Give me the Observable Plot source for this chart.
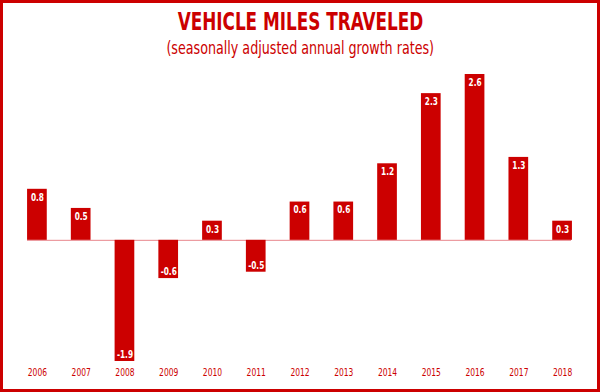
<!DOCTYPE html>
<html>
<head>
<meta charset="utf-8">
<script src="https://cdn.jsdelivr.net/npm/d3@7"></script>
<script src="https://cdn.jsdelivr.net/npm/@observablehq/plot@0.6"></script>
<style>
  html, body { margin: 0; padding: 0; background: #fff; }
  #wrap { position: relative; width: 600px; height: 392px; overflow: hidden; }
  #frame { position: absolute; left: 0; top: 0; width: 600px; height: 392px; box-sizing: border-box; border: 3px solid #cc0000; pointer-events: none; }
  .cond { font-family: "Liberation Sans Narrow", "DejaVu Sans Condensed", "Roboto Condensed", "Arial Narrow", sans-serif; font-stretch: condensed; }
  .line { position: absolute; left: 0; width: 600px; text-align: center; color: #cc0000; }
  .line span { display: inline-block; white-space: nowrap; }
  #title { top: 8px; font-weight: bold; font-size: 24px; line-height: 28px; }
  #title span { transform: scaleX(0.78); }
  #subtitle { top: 37px; font-size: 17px; line-height: 22px; }
  #subtitle span { transform: scaleX(0.83); }
  #chart { position: absolute; left: 0; top: 0; }
</style>
</head>
<body>
<div id="wrap">
  <div id="chart"></div>
  <div id="title" class="line cond"><span>VEHICLE MILES TRAVELED</span></div>
  <div id="subtitle" class="line cond"><span>(seasonally adjusted annual growth rates)</span></div>
  <div id="frame"></div>
</div>
<script>
const years = ["2006","2007","2008","2009","2010","2011","2012","2013","2014","2015","2016","2017","2018"];
const growth = [0.8, 0.5, -1.9, -0.6, 0.3, -0.5, 0.6, 0.6, 1.2, 2.3, 2.6, 1.3, 0.3];

const data = years.map((year, i) => ({year, value: growth[i]}));
const font = '"Liberation Sans Narrow", "DejaVu Sans Condensed", "Roboto Condensed", sans-serif';

const chart = Plot.plot({
  width: 600,
  height: 392,
  marginTop: 74,
  marginBottom: 31,
  marginLeft: 3,
  marginRight: 4,
  style: { fontFamily: font, background: "transparent" },
  x: { domain: years, padding: 0.55, round: false, label: null },
  y: { domain: [-1.9, 2.6], axis: null },
  marks: [
    Plot.axisX({ tickSize: 0, tickPadding: 7, fill: "#cc0000", fontSize: 10.5, label: null }),
    Plot.ruleY([0], { stroke: "#e8868c", strokeWidth: 1, insetLeft: 24, insetRight: 25 }),
    Plot.barY(data, { x: "year", y: "value", fill: "#cc0000" }),
    Plot.text(data.filter(d => d.value >= 0), { x: "year", y: "value", text: d => d.value.toFixed(1), dy: 8, fill: "white", fontWeight: "bold", fontSize: 10.5 }),
    Plot.text(data.filter(d => d.value < 0), { x: "year", y: "value", text: d => d.value.toFixed(1), dy: -7, fill: "white", fontWeight: "bold", fontSize: 10.5 })
  ]
});
document.getElementById("chart").appendChild(chart);

// condense glyphs to mimic the narrow typeface
chart.querySelectorAll("text").forEach(t => {
  const w = t.getComputedTextLength();
  if (!w) return;
  const isLabel = (t.getAttribute("fill") || t.closest("[fill]")?.getAttribute("fill")) === "white";
  t.setAttribute("textLength", w * (isLabel ? 0.78 : 0.8));
  t.setAttribute("lengthAdjust", "spacingAndGlyphs");
});
</script>
</body>
</html>
